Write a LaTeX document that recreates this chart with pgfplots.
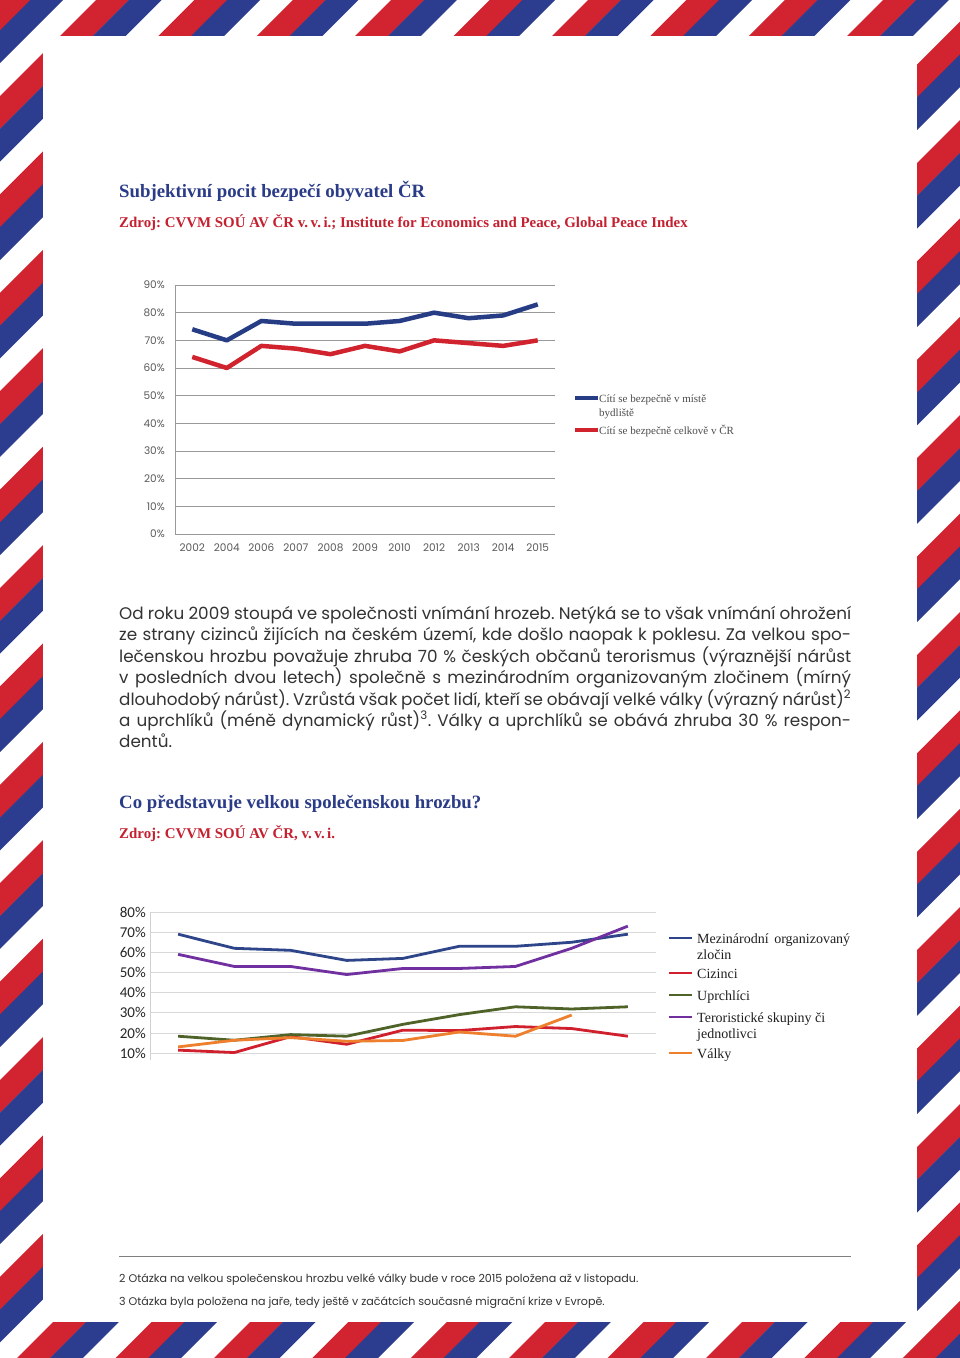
\documentclass[border=0pt]{standalone}
\usepackage{pgfplots}
\pgfplotsset{compat=1.18}
\usepackage{fontspec}
\setmainfont{Liberation Serif}
\newfontfamily\pop{Poppins}
\newfontfamily\carl{Carlito}
\definecolor{sred}{HTML}{D12330}
\definecolor{sblue}{HTML}{2C3D8F}
\definecolor{tblue}{HTML}{2A3B87}
\definecolor{tred}{HTML}{C4202F}
\definecolor{lblue}{HTML}{263C85}
\definecolor{lred}{HTML}{D0232E}
\definecolor{c2blue}{HTML}{2E4589}
\definecolor{c2red}{HTML}{D0202E}
\definecolor{c2green}{HTML}{4F6228}
\definecolor{c2purple}{HTML}{7030A0}
\definecolor{c2orange}{HTML}{EE7F2D}
\definecolor{bodytxt}{HTML}{333333}
\frenchspacing
\begin{document}
\begin{tikzpicture}
% ---------- page and border ----------
\begin{scope}[x=1pt,y=-1pt]
\path (0,0) rectangle (960,1358);
\begin{scope}
\clip (0,0) rectangle (960,1358);
\foreach \k in {-1,...,23} {
  \pgfmathsetmacro\ca{96+98.4*\k}
  \pgfmathsetmacro\cb{\ca+32.8}
  \pgfmathsetmacro\cc{\ca+65.6}
  \fill[sred] (\ca,0) -- (\cb+0.4,0) -- (\cb+0.4-1400,1400) -- (\ca-1400,1400) -- cycle;
  \fill[sblue] (\cb,0) -- (\cc,0) -- (\cc-1400,1400) -- (\cb-1400,1400) -- cycle;
}
\end{scope}
\fill[white] (43,36) rectangle (917,1322);
\end{scope}
% ---------- titles ----------
\node[anchor=base west, inner sep=0pt, text=tblue] at (119pt,-197pt) {\fontsize{18.8}{21}\selectfont\bfseries Subjektivní pocit bezpečí obyvatel ČR};
\node[anchor=base west, inner sep=0pt, text=tred] at (119pt,-227pt) {\fontsize{14.9}{17}\selectfont\bfseries Zdroj: CVVM SOÚ AV ČR v.\,v.\,i.; Institute for Economics and Peace, Global Peace Index};
% ---------- chart 1 ----------
\begin{axis}[
  at={(175pt,-534pt)}, anchor=south west,
  scale only axis, width=380pt, height=249pt,
  xmin=-0.5, xmax=10.5, ymin=0, ymax=90,
  axis lines=left, axis line style={-, draw=black!40, line width=0.8pt},
  ymajorgrids, grid style={black!40, line width=0.8pt},
  major tick length=0pt,
  ytick={0,10,...,90},
  yticklabels={0\%,10\%,20\%,30\%,40\%,50\%,60\%,70\%,80\%,90\%},
  xtick={0,...,10},
  xticklabels={2002,2004,2006,2007,2008,2009,2010,2012,2013,2014,2015},
  /pgf/number format/assume math mode=true,
  tick label style={font=\pop\fontsize{10.5}{12}\selectfont, text=black!65, inner sep=0pt},
  yticklabel style={anchor=east, xshift=-10pt},
  xticklabel style={anchor=north, yshift=-10pt},
  clip=false,
]
\addplot[lblue, line width=4.5pt, line join=round] coordinates {
(0,74) (1,70) (2,77) (3,76) (4,76) (5,76) (6,77) (7,80) (8,78) (9,79) (10,83)};
\addplot[lred, line width=4.5pt, line join=round] coordinates {
(0,64) (1,60) (2,68) (3,67) (4,65) (5,68) (6,66) (7,70) (8,69) (9,68) (10,70)};
\end{axis}
% legend 1
\draw[lblue, line width=3.5pt] (575pt,-398pt) -- (598pt,-398pt);
\draw[lred, line width=3.5pt] (575pt,-430pt) -- (598pt,-430pt);
\begin{scope}[every node/.style={anchor=base west, inner sep=0pt, text=black!70, font=\fontsize{11}{13}\selectfont}]
\node at (599pt,-402pt) {Cítí se bezpečně v místě};
\node at (599pt,-416pt) {bydliště};
\node at (599pt,-434pt) {Cítí se bezpečně celkově v ČR};
\end{scope}
% ---------- body text ----------
\begin{scope}[every node/.style={anchor=base west, inner sep=0pt, text=bodytxt, font=\pop\fontsize{16.8}{21}\selectfont}]
\node at (119pt,-619pt) {\makebox[732pt][s]{Od roku 2009 stoupá ve společnosti vnímání hrozeb. Netýká se to však vnímání ohrožení}};
\node at (119pt,-640pt) {\makebox[732pt][s]{ze strany cizinců žijících na českém území, kde došlo naopak k poklesu. Za velkou spo-}};
\node at (119pt,-662pt) {\makebox[732pt][s]{lečenskou hrozbu považuje zhruba 70 \% českých občanů terorismus (výraznější nárůst}};
\node at (119pt,-683pt) {\makebox[732pt][s]{v posledních dvou letech) společně s mezinárodním organizovaným zločinem (mírný}};
\node at (119pt,-705pt) {\makebox[732pt][s]{dlouhodobý nárůst). Vzrůstá však počet lidí, kteří se obávají velké války (výrazný nárůst)\textsuperscript{2}}};
\node at (119pt,-726pt) {\makebox[732pt][s]{a uprchlíků (méně dynamický růst)\textsuperscript{3}. Války a uprchlíků se obává zhruba 30 \% respon-}};
\node at (119pt,-747pt) {dentů.};
\end{scope}
% ---------- titles 2 ----------
\node[anchor=base west, inner sep=0pt, text=tblue] at (119pt,-808pt) {\fontsize{18.8}{21}\selectfont\bfseries Co představuje velkou společenskou hrozbu?};
\node[anchor=base west, inner sep=0pt, text=tred] at (119pt,-838pt) {\fontsize{14.9}{17}\selectfont\bfseries Zdroj: CVVM SOÚ AV ČR, v.\,v.\,i.};
% ---------- chart 2 ----------
\begin{axis}[
  at={(150pt,-1060pt)}, anchor=south west,
  scale only axis, width=506pt, height=148pt,
  xmin=-0.5, xmax=8.5, ymin=6.6, ymax=80,
  axis y line=left, axis x line=none,
  axis line style={-, draw=black!18, line width=0.8pt},
  ymajorgrids, grid style={black!15, line width=0.8pt},
  major tick length=0pt,
  xtick=\empty,
  ytick={10,20,...,80},
  yticklabels={10\%,20\%,30\%,40\%,50\%,60\%,70\%,80\%},
  /pgf/number format/assume math mode=true,
  yticklabel style={font=\carl\fontsize{15}{17}\selectfont, text=black!85, inner sep=0pt, anchor=east, xshift=-4pt},
  clip=false,
]
\addplot[c2blue, line width=2.8pt, line join=round] coordinates {
(0,69) (1,62) (2,61) (3,56) (4,57) (5,63) (6,63) (7,65) (8,69)};
\addplot[c2red, line width=2.8pt, line join=round] coordinates {
(0,11.5) (1,10.3) (2,18.2) (3,14.4) (4,21.4) (5,21.2) (6,23.2) (7,22.2) (8,18.4)};
\addplot[c2green, line width=2.8pt, line join=round] coordinates {
(0,18.4) (1,16.4) (2,19.2) (3,18.4) (4,24.3) (5,29.1) (6,33) (7,31.9) (8,33)};
\addplot[c2purple, line width=2.8pt, line join=round] coordinates {
(0,59) (1,53) (2,53) (3,49) (4,52) (5,52) (6,53) (7,62) (8,73)};
\addplot[c2orange, line width=2.8pt, line join=round] coordinates {
(0,13.1) (1,16.4) (2,17.7) (3,15.9) (4,16.3) (5,20.5) (6,18.4) (7,28.9)};
\end{axis}
% legend 2
\draw[c2blue, line width=2.5pt] (669pt,-938pt) -- (692pt,-938pt);
\draw[c2red, line width=2.5pt] (669pt,-973pt) -- (692pt,-973pt);
\draw[c2green, line width=2.5pt] (669pt,-995pt) -- (692pt,-995pt);
\draw[c2purple, line width=2.5pt] (669pt,-1017pt) -- (692pt,-1017pt);
\draw[c2orange, line width=2.5pt] (669pt,-1053pt) -- (692pt,-1053pt);
\begin{scope}[every node/.style={anchor=base west, inner sep=0pt, text=black!88, font=\fontsize{14}{16}\selectfont}]
\node at (697pt,-943pt) {\makebox[153pt][s]{Mezinárodní organizovaný}};
\node at (697pt,-959pt) {zločin};
\node at (697pt,-978pt) {Cizinci};
\node at (697pt,-1000pt) {Uprchlíci};
\node at (697pt,-1022pt) {Teroristické skupiny či};
\node at (697pt,-1038pt) {jednotlivci};
\node at (697pt,-1058pt) {Války};
\end{scope}
% ---------- footnotes ----------
\draw[black!50, line width=0.8pt] (119pt,-1256pt) -- (851pt,-1256pt);
\begin{scope}[every node/.style={anchor=base west, inner sep=0pt, text=black!80, font=\pop\fontsize{11.1}{13}\selectfont}]
\node at (119pt,-1282pt) {2 Otázka na velkou společenskou hrozbu velké války bude v roce 2015 položena až v listopadu.};
\node at (119pt,-1305pt) {3 Otázka byla položena na jaře, tedy ještě v začátcích současné migrační krize v Evropě.};
\end{scope}
\end{tikzpicture}
\end{document}
